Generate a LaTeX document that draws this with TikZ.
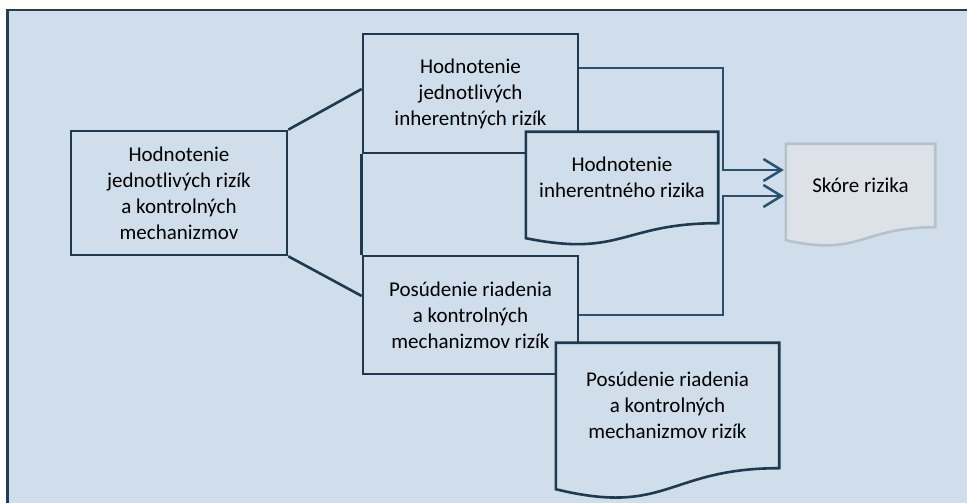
\documentclass[tikz,border=0pt]{standalone}
\usepackage{fontspec}
\setmainfont{Carlito}
\usetikzlibrary{calc,arrows.meta}

\definecolor{panel}{HTML}{CFDEEA}
\definecolor{boxline}{HTML}{1F3A50}
\definecolor{linkline}{HTML}{2A5070}
\definecolor{framecol}{HTML}{243F55}
\definecolor{scorefill}{HTML}{DCE2E7}
\definecolor{scoreline}{HTML}{B4C2CC}

% document outline under a named node, then its text
\newcommand{\docshape}[4]{%
  \draw[#4] (#1.north west) -- (#1.north east) -- (#1.south east)
    .. controls (#1.south) and ($(#1.south)+(0,-2.3*#2)$) .. ($(#1.south west)+(0,-#2)$) -- cycle;
  \node[doctext] (#1-text) at (#1) {#3};}

\begin{document}
\begin{tikzpicture}[x=1pt,y=1pt]
                    \tikzstyle{every node}=[rectangle,inner sep=0,align=center,font=\fontsize{21}{26}\selectfont]
                    \tikzstyle{box}=[draw=boxline,fill=panel,line width=2.6]
                    \tikzstyle{docbox}=[draw=none,fill=none]
                    \tikzstyle{doctext}=[draw=none,fill=none]
                    \tikzstyle{docline}=[draw=boxline,fill=panel,line width=2.6]
                    \tikzstyle{scoreline}=[draw=scoreline,fill=scorefill,line width=2.6]
                    \tikzstyle{link}=[draw=linkline,line width=2.5]
                    \tikzstyle{tie}=[draw=boxline,line width=2.6]
                    \tikzstyle{frame}=[draw=framecol,fill=panel,line width=2.8]
                    {
                        \useasboundingbox (0,0) rectangle (967,503);
                        \draw[frame] (7.5,493) rectangle (990,-20);

                        \node[box,minimum width=216,minimum height=124] (rsk) at (179,310)
                            {Hodnotenie\\jednotlivých rizík\\a kontrolných\\mechanizmov};
                        \node[box,minimum width=215,minimum height=119] (inh) at (470.5,409.5)
                            {Hodnotenie\\jednotlivých\\inherentných rizík};
                        \node[box,minimum width=215,minimum height=118] (ctl) at (470.5,188)
                            {Posúdenie riadenia\\a kontrolných\\mechanizmov rizík};

                        \draw[tie] (rsk.north east) -- ([yshift=4.5]inh.west);
                        \draw[tie] (rsk.south east) -- ([yshift=19]ctl.west);
                        \draw[tie] (inh.south west) -- (ctl.north west);

                        \node[docbox,minimum width=149,minimum height=83] (score) at (860.5,317.5) {};

                        \draw[link,-{Straight Barb[length=18,width=22]},shorten >=2]
                            ([yshift=25.5]inh.east) -| ([xshift=-63,yshift=15.5]score.west) -- ([yshift=15.5]score.west);
                        \draw[link,-{Straight Barb[length=18,width=22]},shorten >=2]
                            (ctl.east) -| ([xshift=-63,yshift=-10.5]score.west) -- ([yshift=-10.5]score.west);

                        \node[docbox,minimum width=192,minimum height=91] (inhdoc) at (622,325.5) {};
                        \docshape{inhdoc}{15}{Hodnotenie\\inherentného rizika}{docline}
                        \node[docbox,minimum width=223,minimum height=125] (ctldoc) at (667.5,97.5) {};
                        \docshape{ctldoc}{21}{Posúdenie riadenia\\a kontrolných\\mechanizmov rizík}{docline}
                        \docshape{score}{13}{Skóre rizika}{scoreline}
                    }
                \end{tikzpicture}
\end{document}
